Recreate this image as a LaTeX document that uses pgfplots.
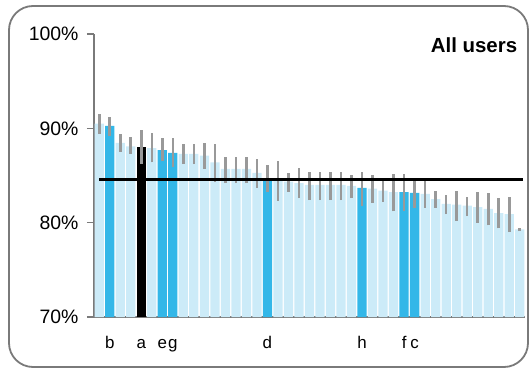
\documentclass[border=0pt]{standalone}
\usepackage{pgfplots}
\pgfplotsset{compat=1.18}
\usepackage{pgfplotstable}
\usepackage{fontspec}
\setmainfont{Liberation Sans}
\definecolor{lightb}{HTML}{CCEBF8}
\definecolor{darkb}{HTML}{33B7E8}
\definecolor{errg}{HTML}{999999}
\definecolor{axg}{HTML}{7A7A7A}

\pgfplotstableread{
x v lo hi c
0 90.5 89.4 91.5 0
1 90.25 89.2 91.2 1
2 88.45 87.5 89.4 0
3 88.1 87.3 89.1 0
4 88.0 86.2 89.8 2
5 87.9 86.4 89.5 0
6 87.7 86.5 89.0 1
7 87.4 85.9 89.0 1
8 87.3 86.2 88.3 0
9 87.3 86.2 88.3 0
10 87.1 85.7 88.4 0
11 86.4 84.3 88.3 0
12 85.7 84.2 87.0 0
13 85.7 84.2 87.0 0
14 85.7 84.2 87.0 0
15 85.27 83.7 86.7 0
16 84.6 83.3 86.1 1
17 84.5 82.3 86.5 0
18 84.35 83.3 85.3 0
19 84.2 82.6 85.8 0
20 84.0 82.4 85.4 0
21 84.0 82.4 85.4 0
22 84.0 82.4 85.4 0
23 84.0 82.4 85.4 0
24 83.9 82.6 85.1 0
25 83.7 81.8 85.4 1
26 83.6 82.1 85.1 0
27 83.4 82.2 84.5 0
28 83.25 81.2 85.2 0
29 83.25 81.2 85.2 1
30 83.15 81.6 84.6 1
31 83.05 81.6 84.4 0
32 82.5 81.6 83.4 0
33 82.0 80.9 82.9 0
34 81.9 80.2 83.4 0
35 81.8 80.7 82.7 0
36 81.65 80.0 83.2 0
37 81.45 79.7 83.1 0
38 81.0 79.4 82.6 0
39 80.9 79.0 82.75 0
40 79.3 79.1 79.4 0
}\data

\begin{document}
\begin{tikzpicture}
\useasboundingbox (-94bp,-53bp) rectangle (436bp,317bp);
\draw[axg, line width=1.8bp, rounded corners=24bp] (-85bp,-50bp) rectangle (434bp,311bp);
\begin{axis}[
  at={(0,0)}, anchor=south west,
  scale only axis, width=431bp, height=283bp,
  xmin=-0.5, xmax=40.5, ymin=70, ymax=100,
  axis lines*=left,
  axis line style={axg, line width=1.3bp},
  ytick={70,80,90,100},
  yticklabel={\pgfmathprintnumber{\tick}\%},
  tick align=outside,
  major tick length=7bp,
  y tick style={axg, line width=1.3bp},
  xtick style={draw=none},
  xtick={1,4,6,7,16,25,29,30},
  xticklabels={b,a,e,g,d,h,f,c},
  yticklabel style={font=\fontsize{19.5}{21}\selectfont, xshift=-5bp},
  xticklabel style={font=\fontsize{17}{19}\selectfont, text height=13bp, text depth=0bp, yshift=-8bp},
  /pgf/number format/assume math mode=true,
  clip=false,
]
\addplot[ybar, bar width=0.88, bar shift=0pt, fill=lightb, draw=none,
  restrict expr to domain={\thisrow{c}}{0:0}] table[x=x, y=v] {\data};
\addplot[ybar, bar width=0.88, bar shift=0pt, fill=darkb, draw=none,
  restrict expr to domain={\thisrow{c}}{1:1}] table[x=x, y=v] {\data};
\addplot[ybar, bar width=0.88, bar shift=0pt, fill=black, draw=none,
  restrict expr to domain={\thisrow{c}}{2:2}] table[x=x, y=v] {\data};
\addplot[draw=none, mark=none,
  error bars/.cd, y dir=plus, y explicit,
  error bar style={draw=errg, line width=2.6bp}, error mark=none]
  table[x=x, y=lo, y error expr=\thisrow{hi}-\thisrow{lo}] {\data};
\addplot[black, line width=3bp, mark=none] coordinates {(0,84.6) (40.3,84.6)};
\node[anchor=east, font=\bfseries\fontsize{20.5}{22}\selectfont] at (rel axis cs:0.99,0.96) {All users};
\end{axis}
\end{tikzpicture}
\end{document}
